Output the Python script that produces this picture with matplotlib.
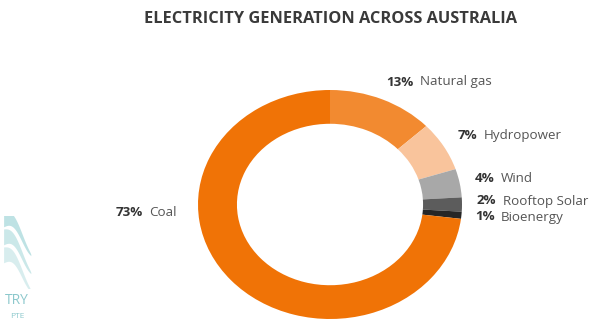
import matplotlib
matplotlib.use('Agg')
import matplotlib.pyplot as plt
import numpy as np

# data
sources = ['Natural gas', 'Hydropower', 'Wind', 'Rooftop Solar', 'Bioenergy', 'Coal']
shares = [13, 7, 4, 2, 1, 73]
colors = ['#F28A30', '#F9C49C', '#A8A8A8', '#5C5C5C', '#262626', '#F07306']

# where each label starts (pixels from top-left of the figure)
label_pos = [(386, 82), (458, 135), (475, 178), (477, 201), (475, 217), (116, 213)]

W, H = 609, 324
plt.rcParams['font.family'] = ['Open Sans', 'DejaVu Sans']
fig = plt.figure(figsize=(W / 100, H / 100), dpi=100)
fig.patch.set_facecolor('white')

# ring is slightly squashed in the reference, so use an auto-aspect axes
cx, cy, rx, ry = 330, 204.5, 132, 114.5
ax = fig.add_axes([(cx - rx) / W, (H - cy - ry) / H, 2 * rx / W, 2 * ry / H])
ax.pie(shares, colors=colors, startangle=90, counterclock=False, radius=1,
       wedgeprops=dict(width=0.295, edgecolor='none'))
ax.set_aspect('auto')
ax.set_xlim(-1, 1)
ax.set_ylim(-1, 1)
ax.axis('off')

fig.text(330 / W, 1 - 19 / H, 'ELECTRICITY GENERATION ACROSS AUSTRALIA',
         ha='center', va='center', fontsize=11.8, fontweight='bold', color='#3A3A3A')

for name, val, (px, py) in zip(sources, shares, label_pos):
    t = fig.text(px / W, 1 - py / H, '%d%%' % val, ha='left', va='center',
                 fontsize=9.6, fontweight='bold', color='#333333')
    plt.annotate(name, xy=(1, 0.5), xycoords=t, xytext=(4.5, 0), textcoords='offset points',
                 ha='left', va='center', fontsize=9.6, color='#555555',
                 annotation_clip=False)

# faint watermark logo at the bottom left
lx = fig.add_axes([2 / W, 1 - 288 / H, 32 / W, 72 / H])
lx.axis('off')
lx.set_xlim(0, 1)
lx.set_ylim(0, 1)
s = np.linspace(0, 1, 40)
for k, a in enumerate([0.85, 0.6, 0.35]):
    base = a - 0.3 * s + 0.1 * np.sin(np.pi * s * 1.5)
    lx.fill_between(0.05 + 0.85 * s, base, base + 0.2 * (1 - s) ** 0.7 + 0.02,
                    color='#A9D9DB', alpha=0.75 - 0.15 * k, lw=0)
fig.text(17 / W, 1 - 300 / H, 'TRY', ha='center', va='center', fontsize=10, color='#8CC8CC')
fig.text(17 / W, 1 - 317 / H, 'PTE', ha='center', va='center', fontsize=6, color='#8CC8CC')

fig.savefig('out.png', dpi=100, facecolor='white')
